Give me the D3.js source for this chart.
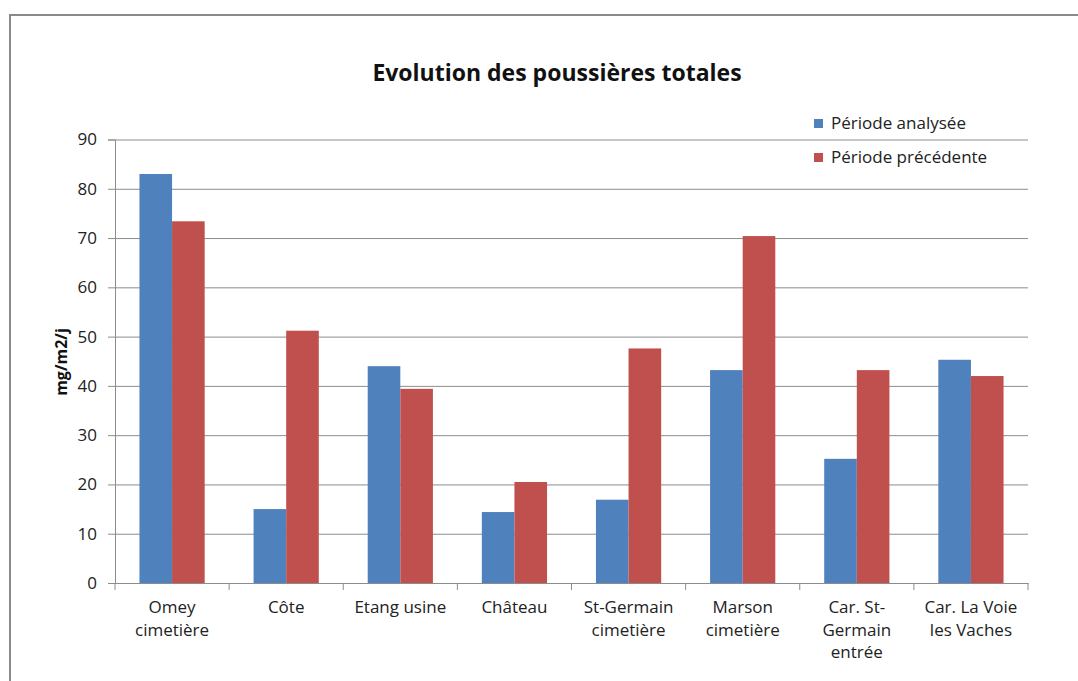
<!DOCTYPE html>
<html><head><meta charset="utf-8">
<script src="https://cdn.jsdelivr.net/npm/d3@7/dist/d3.min.js"></script>
<style>body{margin:0;background:#fff;} svg{display:block;}</style>
</head><body>
<svg id="c" width="1078" height="681"></svg>
<script>
const categories = [["Omey","cimetière"],["Côte"],["Etang usine"],["Château"],["St-Germain","cimetière"],["Marson","cimetière"],["Car. St-","Germain","entrée"],["Car. La Voie","les Vaches"]];
const seriesNames = ["Période analysée","Période précédente"];
const periodeAnalysee = [83.0, 15.0, 44.0, 14.4, 16.9, 43.2, 25.2, 45.3];
const periodePrecedente = [73.4, 51.2, 39.4, 20.5, 47.6, 70.4, 43.2, 42.0];
const yTicks = [0,10,20,30,40,50,60,70,80,90];
const colors = ["#4f81bd","#c0504d"];

const svg = d3.select("#c");
const font = "'Open Sans', sans-serif";
// outer frame
svg.append("rect").attr("x",10).attr("y",15).attr("width",1100).attr("height",700)
  .attr("fill","none").attr("stroke","#8a8a8a").attr("stroke-width",2);

const L=115, R=1028, T=139.5, B=583;
const x = d3.scaleBand().domain(d3.range(categories.length)).range([L,R]).paddingInner(0).paddingOuter(0);
const y = d3.scaleLinear().domain([0,90]).range([B,T]);
const inner = d3.scaleBand().domain([0,1]).range([0,x.bandwidth()]).paddingInner(0).paddingOuter(0.75);

// gridlines
const gy = svg.append("g").attr("transform",`translate(${L},0)`)
  .call(d3.axisLeft(y).tickValues(yTicks).tickSize(-(R-L)).tickFormat(""));
gy.select(".domain").remove();
gy.selectAll(".tick line").attr("stroke","#8c8c8c").attr("stroke-width",1);
// y tick labels + small ticks
const ya = svg.append("g").attr("transform",`translate(${L},0)`)
  .call(d3.axisLeft(y).tickValues(yTicks).tickSize(7).tickPadding(11));
ya.select(".domain").attr("stroke","#8c8c8c");
ya.selectAll(".tick line").attr("stroke","#8c8c8c");
ya.selectAll("text").attr("font-family",font).attr("font-size",17).attr("fill","#222");

// bars
const data = [periodeAnalysee, periodePrecedente];
data.forEach((vals,s)=>{
  svg.append("g").selectAll("rect").data(vals).join("rect")
    .attr("x",(d,i)=>x(i)+inner(s))
    .attr("y",d=>y(d))
    .attr("width",inner.bandwidth())
    .attr("height",d=>B-y(d))
    .attr("fill",colors[s]);
});

// x axis
const xa = svg.append("g").attr("transform",`translate(0,${B})`)
  .call(d3.axisBottom(x).tickSize(0).tickFormat(""));
xa.select(".domain").attr("stroke","#8c8c8c").attr("stroke-width",1.2);
// category boundary ticks
svg.append("g").selectAll("line").data(d3.range(categories.length+1)).join("line")
  .attr("x1",i=>L+i*x.bandwidth()).attr("x2",i=>L+i*x.bandwidth())
  .attr("y1",B).attr("y2",B+7).attr("stroke","#8c8c8c");
// category labels
const cl = svg.append("g").selectAll("text").data(categories).join("text")
  .attr("x",(d,i)=>x(i)+x.bandwidth()/2).attr("y",613)
  .attr("text-anchor","middle").attr("font-family",font).attr("font-size",17).attr("fill","#222");
cl.each(function(d){
  const t=d3.select(this);
  d.forEach((line,k)=>t.append("tspan").attr("x",t.attr("x")).attr("dy",k?22.5:0).text(line));
});

// title
svg.append("text").attr("x",557).attr("y",81).attr("text-anchor","middle")
  .attr("font-family",font).attr("font-weight","bold").attr("font-size",23).attr("fill","#111")
  .text("Evolution des poussières totales");
// y label
svg.append("text").attr("transform","translate(67,362) rotate(-90)").attr("text-anchor","middle")
  .attr("font-family",font).attr("font-weight","bold").attr("font-size",16).attr("fill","#111")
  .text("mg/m2/j");

// legend
seriesNames.forEach((n,i)=>{
  const yy = 123 + i*34;
  svg.append("rect").attr("x",814).attr("y",yy-4).attr("width",9).attr("height",9).attr("fill",colors[i]);
  svg.append("text").attr("x",831).attr("y",yy+6).attr("font-family",font).attr("font-size",17).attr("fill","#222").text(n);
});
</script>
</body></html>
